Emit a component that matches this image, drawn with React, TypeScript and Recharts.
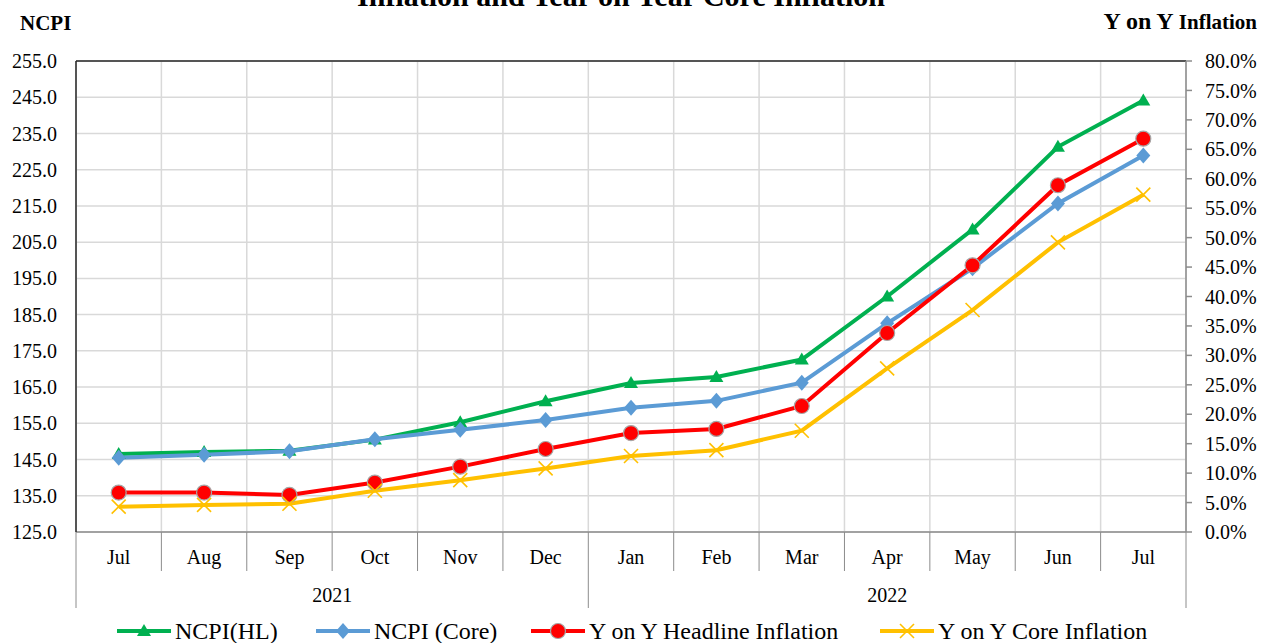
import { CartesianGrid, Line, LineChart, ReferenceLine, XAxis, YAxis } from "recharts";

const months = ["Jul", "Aug", "Sep", "Oct", "Nov", "Dec", "Jan", "Feb", "Mar", "Apr", "May", "Jun", "Jul"];
const years = ["2021", "2022"];
const yearSpans = [6, 7];

const ncpiHL = [146.5, 147.1, 147.4, 150.5, 155.3, 161.1, 166.1, 167.8, 172.6, 190.0, 208.5, 231.3, 244.1];
const ncpiCore = [145.5, 146.3, 147.3, 150.6, 153.2, 155.9, 159.3, 161.2, 166.2, 182.6, 197.8, 215.7, 228.9];
const yoyHeadline = [6.7, 6.7, 6.3, 8.4, 11.1, 14.1, 16.8, 17.5, 21.4, 33.8, 45.3, 58.9, 66.8];
const yoyCore = [4.3, 4.6, 4.8, 7.0, 8.8, 10.8, 12.9, 13.9, 17.2, 27.8, 37.7, 49.2, 57.3];

const leftTicks = [125, 135, 145, 155, 165, 175, 185, 195, 205, 215, 225, 235, 245, 255];
const rightTicks = [0, 5, 10, 15, 20, 25, 30, 35, 40, 45, 50, 55, 60, 65, 70, 75, 80];

const data = months.map((m, i) => ({
  month: m,
  hl: ncpiHL[i],
  core: ncpiCore[i],
  yoyH: yoyHeadline[i],
  yoyC: yoyCore[i],
}));

// year groups: which month index starts each year, and where its label centre falls
const yearStarts: number[] = [];
const yearLabelAt: Record<number, { label: string; shift: number }> = {};
{
  let start = 0;
  yearSpans.forEach((span, i) => {
    yearStarts.push(start);
    const centre = start + span / 2; // in band units from the left edge
    const k = Math.floor(centre);
    yearLabelAt[k] = { label: years[i], shift: centre - k - 0.5 };
    start += span;
  });
}

const GREEN = "#00b050";
const BLUE = "#5b9bd5";
const RED = "#ff0000";
const YELLOW = "#ffc000";
const AXIS_GREY = "#8c8c8c";
const FONT = "'Liberation Serif', 'Times New Roman', serif";

const W = 1261;
const H = 643;
const BAND = 1110 / months.length;
const HALF_BAND = BAND / 2;

const Tri = ({ cx, cy }: { cx: number; cy: number }) => (
  <path d={`M${cx},${cy - 7} L${cx + 7},${cy + 5} L${cx - 7},${cy + 5} Z`} fill={GREEN} />
);
const Diamond = ({ cx, cy }: { cx: number; cy: number }) => (
  <path d={`M${cx},${cy - 8} L${cx + 7},${cy} L${cx},${cy + 8} L${cx - 7},${cy} Z`} fill={BLUE} />
);
const Dot = ({ cx, cy }: { cx: number; cy: number }) => (
  <circle cx={cx} cy={cy} r={7.5} fill={RED} stroke="#a6a6a6" strokeWidth={1.2} />
);
const Cross = ({ cx, cy }: { cx: number; cy: number }) => (
  <g stroke={YELLOW} strokeWidth={1.6}>
    <line x1={cx - 7} y1={cy - 7} x2={cx + 7} y2={cy + 7} />
    <line x1={cx - 7} y1={cy + 7} x2={cx + 7} y2={cy - 7} />
  </g>
);

function MonthTick(props: any) {
  const { x, y, payload, index } = props;
  const leftLen = yearStarts.includes(index) ? 76 : 39;
  const year = yearLabelAt[index];
  return (
    <g>
      <line x1={x - HALF_BAND} x2={x - HALF_BAND} y1={y} y2={y + leftLen} stroke={AXIS_GREY} />
      {index === months.length - 1 && (
        <line x1={x + HALF_BAND} x2={x + HALF_BAND} y1={y} y2={y + 76} stroke={AXIS_GREY} />
      )}
      <text x={x} y={y + 25} textAnchor="middle" dominantBaseline="central" fontFamily={FONT} fontSize={20} fill="#000">
        {payload.value}
      </text>
      {year && (
        <text
          x={x + year.shift * BAND}
          y={y + 63}
          textAnchor="middle"
          dominantBaseline="central"
          fontFamily={FONT}
          fontSize={20}
          fill="#000"
        >
          {year.label}
        </text>
      )}
    </g>
  );
}

const legendItems = [
  { label: "NCPI(HL)", color: GREEN, Marker: Tri, x0: 117 },
  { label: "NCPI (Core)", color: BLUE, Marker: Diamond, x0: 316 },
  { label: "Y on Y Headline Inflation", color: RED, Marker: Dot, x0: 531 },
  { label: "Y on Y Core Inflation", color: YELLOW, Marker: Cross, x0: 880 },
];

// vertical grid lines sit on the category boundaries
const boundaryLines = ({ offset }: any) =>
  Array.from({ length: months.length + 1 }, (_, i) => offset.left + (i * offset.width) / months.length);

export default function App() {
  const tickStyle = { fontFamily: FONT, fontSize: 20, fill: "#000" };
  return (
    <div style={{ position: "absolute", left: 0, top: 0, width: W, height: H, background: "#fff" }}>
      <LineChart width={W} height={H} data={data} margin={{ top: 61, right: 0, left: 10, bottom: 35 }}>
        <CartesianGrid
          xAxisId="m"
          yAxisId="left"
          stroke="#d9d9d9"
          strokeWidth={1.5}
          verticalCoordinatesGenerator={boundaryLines}
        />
        <XAxis
          xAxisId="m"
          dataKey="month"
          padding={{ left: HALF_BAND, right: HALF_BAND }}
          height={76}
          interval={0}
          tickLine={false}
          tickSize={0}
          tickMargin={0}
          stroke={AXIS_GREY}
          strokeWidth={1.5}
          tick={<MonthTick />}
        />
        <YAxis
          yAxisId="left"
          width={66}
          domain={[125, 255]}
          ticks={leftTicks}
          interval={0}
          tickLine={false}
          tickSize={0}
          tickMargin={19}
          stroke="#262626"
          strokeWidth={1.5}
          tick={tickStyle}
          tickFormatter={(v: number) => v.toFixed(1)}
        />
        <YAxis
          yAxisId="right"
          orientation="right"
          width={75}
          domain={[0, 80]}
          ticks={rightTicks}
          interval={0}
          tickSize={6}
          tickMargin={13}
          stroke={AXIS_GREY}
          strokeWidth={1.5}
          tick={tickStyle}
          tickFormatter={(v: number) => `${v.toFixed(1)}%`}
        />
        <ReferenceLine xAxisId="m" yAxisId="left" y={255} stroke="#262626" strokeWidth={1.5} />
        <Line
          xAxisId="m"
          yAxisId="left"
          dataKey="hl"
          stroke={GREEN}
          strokeWidth={4}
          dot={(p: any) => <Tri key={`hl${p.index}`} cx={p.cx} cy={p.cy} />}
          isAnimationActive={false}
        />
        <Line
          xAxisId="m"
          yAxisId="left"
          dataKey="core"
          stroke={BLUE}
          strokeWidth={4}
          dot={(p: any) => <Diamond key={`co${p.index}`} cx={p.cx} cy={p.cy} />}
          isAnimationActive={false}
        />
        <Line
          xAxisId="m"
          yAxisId="right"
          dataKey="yoyH"
          stroke={RED}
          strokeWidth={4}
          dot={(p: any) => <Dot key={`yh${p.index}`} cx={p.cx} cy={p.cy} />}
          isAnimationActive={false}
        />
        <Line
          xAxisId="m"
          yAxisId="right"
          dataKey="yoyC"
          stroke={YELLOW}
          strokeWidth={4}
          dot={(p: any) => <Cross key={`yc${p.index}`} cx={p.cx} cy={p.cy} />}
          isAnimationActive={false}
        />
      </LineChart>
      <svg width={W} height={H} style={{ position: "absolute", left: 0, top: 0, pointerEvents: "none" }}>
        <text x={621} y={6} textAnchor="middle" fontFamily={FONT} fontWeight="bold" fontSize={30} fill="#000">
          Inflation and Year on Year Core Inflation
        </text>
        <text x={20} y={30} fontFamily={FONT} fontWeight="bold" fontSize={21} fill="#000">
          NCPI
        </text>
        <text x={1257} y={29} textAnchor="end" fontFamily={FONT} fontWeight="bold" fill="#000">
          <tspan fontSize={24}>Y on Y </tspan>
          <tspan fontSize={21}>Inflation</tspan>
        </text>
        {legendItems.map(({ label, color, Marker, x0 }) => (
          <g key={label}>
            <line x1={x0} x2={x0 + 54} y1={631} y2={631} stroke={color} strokeWidth={4} />
            <Marker cx={x0 + 27} cy={631} />
            <text x={x0 + 58} y={639} fontFamily={FONT} fontSize={24} fill="#000">
              {label}
            </text>
          </g>
        ))}
      </svg>
    </div>
  );
}
